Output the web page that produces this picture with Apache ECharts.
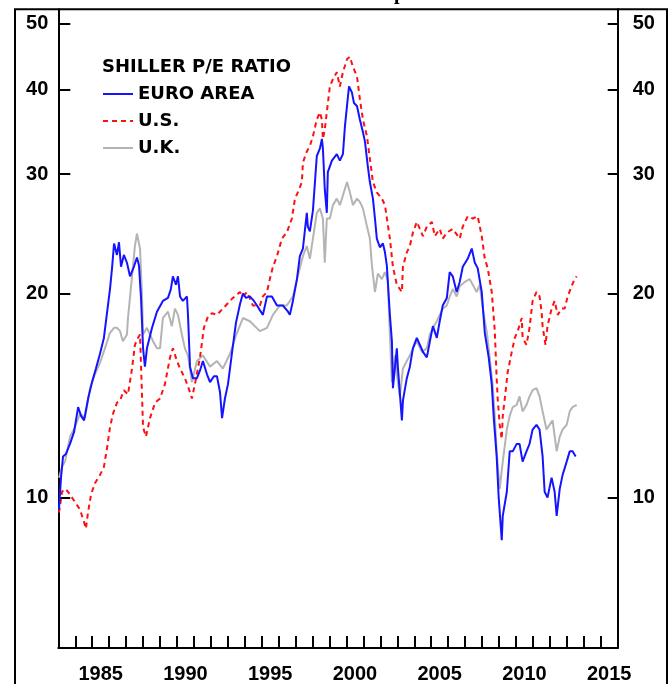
<!DOCTYPE html>
<html><head><meta charset="utf-8">
<script src="https://cdn.jsdelivr.net/npm/echarts@6/dist/echarts.min.js"></script>
<style>html,body{margin:0;padding:0;background:#fff}#c{width:671px;height:684px}</style>
</head><body><div id="c"></div>
<script>
// Shiller P/E ratio, [decimal year, value]
const euroArea = [[1983.04,9.6],[1983.16,10.7],[1983.28,11.5],[1983.45,11.6],[1983.69,12.0],[1983.93,12.5],[1984.17,13.6],[1984.34,13.2],[1984.52,13.0],[1984.76,14.0],[1984.99,14.8],[1985.22,15.5],[1985.46,16.3],[1985.69,17.2],[1985.87,18.7],[1986.05,20.3],[1986.17,21.8],[1986.29,23.7],[1986.46,22.8],[1986.58,23.8],[1986.70,21.9],[1986.87,22.8],[1987.05,22.2],[1987.23,21.2],[1987.46,21.9],[1987.64,22.6],[1987.76,22.0],[1987.88,19.7],[1988.00,16.6],[1988.11,15.6],[1988.23,16.6],[1988.53,17.8],[1988.82,18.8],[1989.17,19.5],[1989.47,19.7],[1989.64,20.3],[1989.76,21.2],[1989.94,20.6],[1990.06,21.2],[1990.18,19.8],[1990.35,19.5],[1990.59,19.8],[1990.65,18.6],[1990.77,15.6],[1990.94,15.0],[1991.18,15.0],[1991.36,15.4],[1991.53,15.9],[1991.77,15.2],[1991.95,14.8],[1992.18,15.1],[1992.36,15.1],[1992.54,14.3],[1992.66,13.1],[1992.83,14.0],[1993.01,14.7],[1993.24,16.3],[1993.48,18.1],[1993.72,19.3],[1993.89,20.0],[1994.07,19.7],[1994.30,19.8],[1994.54,19.5],[1994.72,19.2],[1994.89,18.9],[1995.07,18.6],[1995.31,19.8],[1995.60,19.8],[1995.90,19.2],[1996.25,19.2],[1996.55,18.8],[1996.66,18.6],[1996.84,19.5],[1997.08,21.0],[1997.25,22.7],[1997.43,23.3],[1997.66,26.3],[1997.72,25.1],[1997.84,24.7],[1998.02,26.5],[1998.25,31.9],[1998.43,32.7],[1998.55,33.8],[1998.61,32.7],[1998.72,28.5],[1998.84,26.3],[1998.90,30.2],[1999.14,31.4],[1999.43,32.1],[1999.61,31.4],[1999.79,32.1],[1999.91,35.3],[2000.03,37.8],[2000.15,40.4],[2000.32,39.6],[2000.44,38.2],[2000.62,37.8],[2000.79,36.1],[2000.97,34.6],[2001.09,33.5],[2001.26,30.8],[2001.38,29.2],[2001.56,27.6],[2001.68,25.8],[2001.79,24.1],[2001.97,23.4],[2002.15,23.7],[2002.27,23.0],[2002.38,22.0],[2002.56,18.6],[2002.68,17.0],[2002.74,14.5],[2002.97,16.6],[2003.03,15.6],[2003.27,13.0],[2003.33,13.9],[2003.56,15.0],[2003.74,15.6],[2003.92,16.6],[2004.15,17.2],[2004.33,16.8],[2004.51,16.4],[2004.74,16.1],[2004.92,17.0],[2005.10,17.9],[2005.33,17.2],[2005.50,18.2],[2005.68,19.2],[2005.92,19.7],[2006.09,21.5],[2006.27,21.2],[2006.50,20.1],[2006.68,20.8],[2006.86,21.9],[2007.15,22.5],[2007.39,23.3],[2007.57,22.2],[2007.74,21.8],[2007.98,20.1],[2008.16,17.5],[2008.39,16.1],[2008.57,14.7],[2008.69,13.1],[2008.86,11.5],[2008.98,10.0],[2009.16,8.65],[2009.22,9.4],[2009.46,10.2],[2009.63,11.7],[2009.81,11.7],[2010.04,12.0],[2010.21,12.0],[2010.39,11.3],[2010.62,11.7],[2010.80,12.0],[2010.98,12.6],[2011.21,12.8],[2011.39,12.6],[2011.57,11.5],[2011.69,10.2],[2011.86,10.0],[2012.10,10.7],[2012.28,10.2],[2012.40,9.4],[2012.58,10.3],[2012.75,10.8],[2012.99,11.3],[2013.17,11.7],[2013.34,11.7],[2013.52,11.5]];
const unitedStates = [[1983.04,9.5],[1983.22,10.2],[1983.40,10.3],[1983.57,10.2],[1983.81,10.0],[1984.04,9.8],[1984.28,9.6],[1984.52,9.2],[1984.63,9.0],[1984.75,9.5],[1984.93,10.1],[1985.16,10.5],[1985.46,10.8],[1985.69,11.1],[1985.87,11.8],[1986.05,12.7],[1986.23,13.3],[1986.46,13.8],[1986.64,13.9],[1986.87,14.4],[1987.11,14.2],[1987.35,15.5],[1987.52,16.8],[1987.70,17.2],[1987.82,17.4],[1987.94,14.1],[1988.00,12.7],[1988.17,12.3],[1988.41,13.1],[1988.71,13.8],[1989.00,14.0],[1989.29,14.7],[1989.59,16.1],[1989.76,16.6],[1990.00,15.9],[1990.18,15.5],[1990.47,15.0],[1990.77,14.3],[1990.88,14.0],[1991.06,14.7],[1991.36,16.1],[1991.59,17.8],[1991.83,18.5],[1992.06,18.7],[1992.36,18.6],[1992.71,19.0],[1993.13,19.5],[1993.30,19.7],[1993.72,20.1],[1993.89,19.8],[1994.13,20.1],[1994.48,19.2],[1994.89,19.2],[1995.07,19.8],[1995.31,20.1],[1995.48,21.0],[1995.66,21.9],[1995.90,22.7],[1996.19,24.1],[1996.48,24.6],[1996.78,25.8],[1996.96,27.6],[1997.13,28.2],[1997.37,29.2],[1997.43,31.2],[1997.66,32.4],[1997.84,33.0],[1998.02,34.1],[1998.25,36.1],[1998.43,37.0],[1998.55,36.1],[1998.61,33.8],[1998.72,34.9],[1999.02,40.4],[1999.20,41.4],[1999.43,42.4],[1999.61,40.4],[1999.79,42.4],[2000.03,44.3],[2000.20,44.7],[2000.38,43.2],[2000.62,41.8],[2000.79,38.7],[2000.97,36.1],[2001.21,34.1],[2001.38,31.6],[2001.56,29.2],[2001.79,28.2],[2002.09,27.6],[2002.27,27.0],[2002.56,24.1],[2002.74,21.9],[2002.97,20.6],[2003.27,20.1],[2003.33,21.9],[2003.56,23.0],[2003.74,23.5],[2003.92,24.6],[2004.15,25.5],[2004.33,24.9],[2004.51,24.3],[2004.74,25.1],[2005.04,25.5],[2005.21,24.3],[2005.50,24.9],[2005.68,24.1],[2005.92,24.6],[2006.27,24.9],[2006.68,24.1],[2006.86,25.1],[2007.15,26.0],[2007.45,25.8],[2007.74,26.0],[2007.98,24.3],[2008.16,22.5],[2008.33,21.8],[2008.57,20.1],[2008.75,17.6],[2008.86,15.0],[2008.92,14.0],[2009.04,12.8],[2009.16,12.2],[2009.22,13.2],[2009.34,14.0],[2009.51,15.3],[2009.75,16.4],[2009.93,17.2],[2010.10,17.6],[2010.34,18.4],[2010.39,17.2],[2010.62,16.8],[2010.80,17.8],[2010.98,19.5],[2011.21,20.1],[2011.39,19.8],[2011.51,18.8],[2011.57,17.9],[2011.74,16.8],[2011.86,17.9],[2012.10,19.0],[2012.28,19.5],[2012.46,18.6],[2012.69,19.0],[2012.87,19.0],[2013.05,19.8],[2013.28,20.5],[2013.46,21.0],[2013.58,21.2]];
const unitedKingdom = [[1983.04,10.7],[1983.22,11.1],[1983.40,11.3],[1983.69,12.3],[1983.98,12.7],[1984.28,13.3],[1984.57,13.1],[1984.87,14.5],[1985.16,15.2],[1985.46,15.8],[1985.75,16.6],[1986.05,17.5],[1986.29,17.8],[1986.46,17.8],[1986.64,17.6],[1986.81,17.0],[1987.05,17.4],[1987.11,18.4],[1987.35,21.2],[1987.52,23.5],[1987.64,24.5],[1987.82,23.3],[1987.94,19.8],[1988.00,17.4],[1988.23,17.8],[1988.41,17.4],[1988.59,17.0],[1988.82,16.6],[1989.00,16.6],[1989.17,18.4],[1989.47,18.8],[1989.70,17.9],[1989.88,19.0],[1990.06,18.6],[1990.29,17.4],[1990.47,16.6],[1990.65,16.2],[1990.88,14.8],[1991.18,15.9],[1991.53,16.2],[1991.95,15.6],[1992.36,15.9],[1992.71,15.5],[1993.13,16.3],[1993.54,17.5],[1993.89,18.4],[1994.30,18.2],[1994.89,17.6],[1995.31,17.8],[1995.66,18.6],[1996.07,19.2],[1996.48,19.2],[1996.84,19.8],[1997.08,21.0],[1997.25,21.8],[1997.43,22.7],[1997.66,23.5],[1997.84,22.5],[1998.02,24.1],[1998.25,26.3],[1998.43,26.7],[1998.61,25.8],[1998.72,22.2],[1998.84,25.8],[1999.02,25.8],[1999.20,27.0],[1999.43,27.6],[1999.61,27.0],[1999.79,27.9],[2000.03,29.2],[2000.20,28.2],[2000.38,27.0],[2000.62,27.6],[2000.79,27.3],[2000.97,26.7],[2001.21,25.1],[2001.38,24.1],[2001.50,22.0],[2001.68,20.1],[2001.85,21.4],[2002.09,21.0],[2002.27,21.5],[2002.44,20.9],[2002.56,17.4],[2002.68,14.8],[2002.86,16.2],[2003.03,14.8],[2003.15,14.1],[2003.33,15.5],[2003.56,15.9],[2003.74,16.2],[2003.92,16.6],[2004.15,17.0],[2004.45,16.4],[2004.74,16.6],[2004.92,17.4],[2005.10,17.8],[2005.33,18.2],[2005.50,18.6],[2005.68,19.0],[2005.92,19.2],[2006.09,19.8],[2006.27,20.3],[2006.50,19.8],[2006.68,20.5],[2006.98,20.8],[2007.27,21.0],[2007.45,20.6],[2007.68,20.1],[2007.86,20.6],[2008.04,19.0],[2008.27,17.6],[2008.45,16.1],[2008.63,14.6],[2008.75,13.2],[2008.86,11.7],[2009.04,10.3],[2009.22,11.3],[2009.46,12.6],[2009.63,13.2],[2009.81,13.6],[2010.04,13.7],[2010.21,14.1],[2010.39,13.4],[2010.62,13.7],[2010.80,14.1],[2010.98,14.4],[2011.21,14.5],[2011.39,14.1],[2011.57,13.4],[2011.80,12.6],[2011.98,12.8],[2012.16,13.0],[2012.40,11.7],[2012.58,12.3],[2012.75,12.6],[2012.99,12.8],[2013.17,13.4],[2013.34,13.6],[2013.58,13.7]];

const seriesNames = ['EURO AREA', 'U.S.', 'U.K.'];
const legendTitle = 'SHILLER P/E RATIO';
const chartTitle = 'Relative Valuations Favor European Stocks';
const yTickValues = [10, 20, 30, 40, 50];
const xLabelYears = [1985, 1990, 1995, 2000, 2005, 2010, 2015];
const xTickYears = [];
for (let y = 1984; y <= 2015; y++) xTickYears.push(y);

const chart = echarts.init(document.getElementById('c'), null, {renderer: 'canvas'});
const tickFont = {fontFamily: '"Liberation Sans", Arial, sans-serif', fontWeight: 'bold', fontSize: 20, color: '#000'};

function makeYAxis(pos, margin, tickLen) {
  return {
    type: 'log', logBase: 10, min: 6, max: 52.5, position: pos,
    axisLine: {show: true, onZero: false, lineStyle: {color: '#000', width: 2}},
    axisTick: {show: true, inside: true, length: tickLen, customValues: yTickValues, lineStyle: {color: '#000', width: 2}},
    axisLabel: Object.assign({show: true, customValues: yTickValues, margin: margin}, tickFont),
    splitLine: {show: false}, minorTick: {show: false}, minorSplitLine: {show: false}
  };
}

chart.setOption({
  animation: false,
  backgroundColor: '#fff',
  grid: {left: 58.3, right: 53.3, top: 9.3, bottom: 34, containLabel: false},
  xAxis: {
    type: 'value', min: 1983, max: 2016,
    axisLine: {show: true, onZero: false, lineStyle: {color: '#000', width: 2}},
    axisTick: {show: true, inside: true, length: 12, customValues: xTickYears, lineStyle: {color: '#000', width: 2}},
    axisLabel: Object.assign({show: true, customValues: xLabelYears.map(y => y + 0.5), formatter: v => String(Math.floor(v)), margin: 16}, tickFont),
    splitLine: {show: false}
  },
  yAxis: [makeYAxis('left', 10, 12), makeYAxis('right', 15, 10)],
  legend: {
    data: seriesNames, orient: 'vertical', left: 102, top: 84, padding: 0,
    itemWidth: 30, itemHeight: 20, itemGap: 7, selectedMode: false,
    itemStyle: {opacity: 0},
    textStyle: {fontFamily: '"DejaVu Sans", sans-serif', fontWeight: 'bold', fontSize: 18, color: '#000', lineHeight: 20}
  },
  graphic: [
    {type: 'rect', shape: {x: 15, y: 9.3, width: 652, height: 700}, style: {fill: null, stroke: '#000', lineWidth: 2}, z: -1, silent: true},
    {type: 'text', x: 102, y: 67, style: {text: legendTitle, font: 'bold 18px "DejaVu Sans", sans-serif', fill: '#000', verticalAlign: 'middle', align: 'left'}},
    {type: 'text', x: 310, y: 4, style: {text: chartTitle, font: 'bold 20px "Liberation Serif", serif', fill: '#000', verticalAlign: 'bottom', align: 'center'}}
  ],
  series: [
    {name: 'U.K.', type: 'line', data: unitedKingdom, symbol: 'none', lineStyle: {color: '#b4b4b4', width: 2}, itemStyle: {color: '#b4b4b4'}, z: 2},
    {name: 'U.S.', type: 'line', data: unitedStates, symbol: 'none', lineStyle: {color: '#ff1010', width: 2, type: [5, 4]}, itemStyle: {color: '#ff1010'}, z: 3},
    {name: 'EURO AREA', type: 'line', data: euroArea, symbol: 'none', lineStyle: {color: '#1414ff', width: 2}, itemStyle: {color: '#1414ff'}, z: 4}
  ]
});
</script></body></html>
